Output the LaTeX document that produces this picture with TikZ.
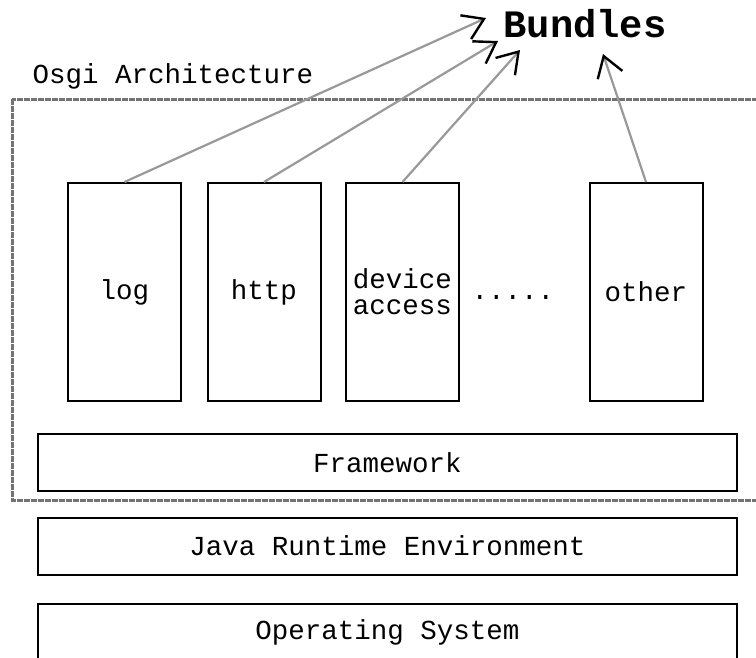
\documentclass[tikz,border=0pt]{standalone}
\usepackage{fontspec}
\setmainfont{Liberation Mono}
\usetikzlibrary{arrows.meta}
\begin{document}
\begin{tikzpicture}[x=1pt,y=-1pt,
  txt/.style={font=\fontsize{27.5}{26}\selectfont},
  bundlebox/.style={draw=black,line width=2pt,minimum width=113pt,minimum height=218pt,inner sep=0pt,txt,align=center},
  layer/.style={draw=black,line width=2pt,minimum width=699pt,minimum height=57pt,inner sep=0pt,txt},
  frame/.style={draw=black!55,line width=3pt,dash pattern=on 6pt off 1pt},
  dep/.style={draw=gray!80,line width=2.2pt,-{Straight Barb[length=20pt,width=26pt,line width=2.4pt,color=black]}}]
\useasboundingbox (0,0) rectangle (756,657);
\fill[white] (0,0) rectangle (756,657);

% OSGi container
\draw[frame] (12,99) rectangle (775,500);
\node[txt,anchor=base west] (arch) at (29,83) {Osgi Architecture};

% bundles
\node[bundlebox] (log) at (124.5,292) {log};
\node[bundlebox] (http) at (264,292) {http};
\node[bundlebox] (dev) at (402.5,292) {device\\[0pt]access};
\node[txt] (dots) at (513,297) {.....};
\node[bundlebox] (other) at (646,292) {other};

% layers
\node[layer] (fw) at (387.5,462.5) {Framework};
\node[layer] (jre) at (387.5,546) {Java Runtime Environment};
\node[layer] (os) at (387.5,632) {Operating System};

% title and arrow targets
\node[font=\fontsize{38.8}{40}\selectfont\bfseries] (bundles) at (585,24) {Bundles};
\coordinate (t1) at (486,18);
\coordinate (t2) at (498,41);
\coordinate (t3) at (520,50);
\coordinate (t4) at (603,54);

\draw[dep] (log.north) -- (t1);
\draw[dep] (http.north) -- (t2);
\draw[dep] (dev.north) -- (t3);
\draw[dep] (other.north) -- (t4);
\end{tikzpicture}
\end{document}
